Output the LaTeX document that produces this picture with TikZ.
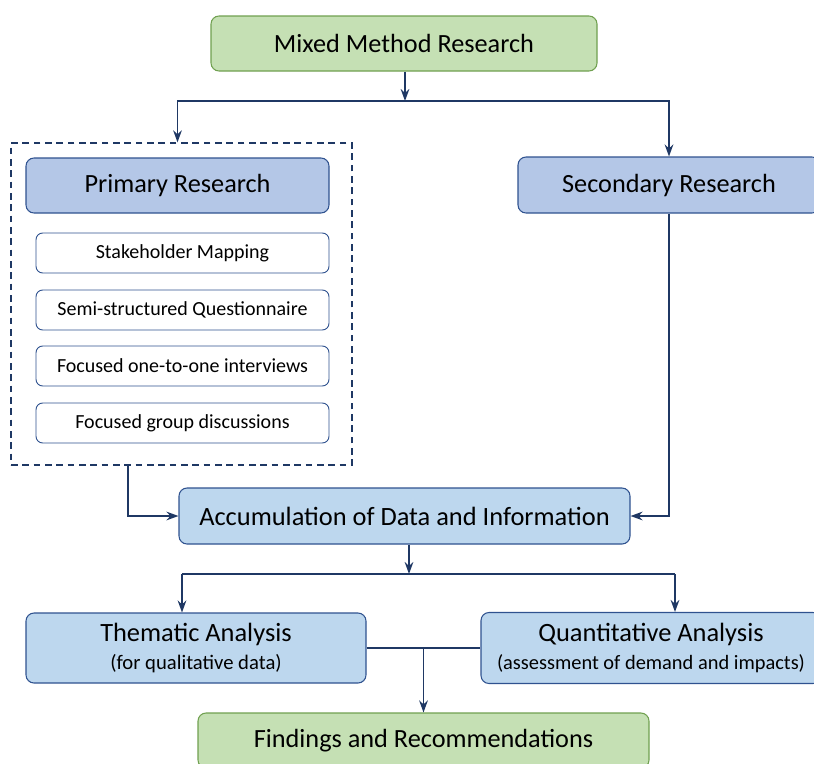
\documentclass[tikz,border=0pt]{standalone}
\usepackage{tikz}
\usepackage{fontspec}
\setmainfont{Carlito}
\usetikzlibrary{arrows.meta}
\definecolor{greenfill}{RGB}{197,224,180}
\definecolor{greenline}{RGB}{112,160,80}
\definecolor{bluefill}{RGB}{180,199,231}
\definecolor{lightblue}{RGB}{189,215,238}
\definecolor{blueline}{RGB}{47,82,143}
\definecolor{navy}{RGB}{31,56,100}

\begin{document}
\begin{tikzpicture}[x=0.75pt,y=0.75pt,yscale=-1,xscale=1,
  greenbox/.style={draw=greenline,fill=greenfill,rounded corners=6pt,line width=0.8pt,font=\fontsize{19.7}{22}\selectfont},
  bluebox/.style={draw=blueline,fill=bluefill,rounded corners=6pt,line width=0.8pt,font=\fontsize{19.7}{22}\selectfont},
  lightbox/.style={draw=blueline,fill=lightblue,rounded corners=6pt,line width=0.8pt,align=center},
  itembox/.style={draw=blueline,fill=white,rounded corners=5pt,line width=0.7pt,minimum width=219.75pt,minimum height=30pt,font=\fontsize{15}{17}\selectfont},
  arr/.style={draw=navy,line width=1.2pt,-{Stealth[length=9pt,width=6.5pt]}},
  ln/.style={draw=navy,line width=1.2pt}]
%set diagram left start at 0, and has height of 764
\useasboundingbox (0,0) rectangle (814,764);

%Shape: Rounded Rect [id:mixed]
\node [greenbox,minimum width=289.5pt,minimum height=41.25pt] (mixed) at (404,43.5) {Mixed Method Research};
%Shape: Dashed Rect [id:primbox]
\node [draw=navy,dashed,line width=1pt,dash pattern={on 5pt off 3.5pt},minimum width=255.75pt,minimum height=241.5pt] (primbox) at (181.5,304) {};
%Shape: Rounded Rect [id:primary]
\node [bluebox,minimum width=227.25pt,minimum height=41.25pt] (primary) at (177.5,185.5) {Primary Research};
%Shape: Rounded Rect [id:secondary]
\node [bluebox,minimum width=226.5pt,minimum height=42pt] (secondary) at (669,185) {Secondary Research};

%Shape: Rounded Rect [id:stake]
\node [itembox] (stake) at (182.5,253) {Stakeholder Mapping};
%Shape: Rounded Rect [id:quest]
\node [itembox] (quest) at (182.5,310) {Semi-structured Questionnaire};
%Shape: Rounded Rect [id:inter]
\node [itembox] (inter) at (182.5,366) {Focused one-to-one interviews};
%Shape: Rounded Rect [id:group]
\node [itembox] (group) at (182.5,423) {Focused group discussions};

%Shape: Rounded Rect [id:accum]
\node [lightbox,minimum width=338.25pt,minimum height=42pt,font=\fontsize{19.8}{22}\selectfont] (accum) at (404.5,516) {Accumulation of Data and Information};
%Shape: Rounded Rect [id:thematic]
\node [lightbox,minimum width=255pt,minimum height=52.5pt] (thematic) at (196,648) {{\fontsize{19.8}{21}\selectfont Thematic Analysis}\\[5pt]{\fontsize{15.5}{16}\selectfont (for qualitative data)}};
%Shape: Rounded Rect [id:quant]
\node [lightbox,minimum width=255pt,minimum height=53.25pt] (quant) at (651,648) {{\fontsize{19.8}{21}\selectfont Quantitative Analysis}\\[5pt]{\fontsize{15.3}{16}\selectfont (assessment of demand and impacts)}};
%Shape: Rounded Rect [id:findings]
\node [greenbox,minimum width=338.25pt,minimum height=41.25pt] (findings) at (423.5,740.5) {Findings and Recommendations};

%Junctions
\coordinate (split1) at (405,101);
\coordinate (pbot) at (128,465);
\coordinate (split2) at (409,574);
\coordinate (barL) at (182,574);
\coordinate (barR) at (675,574);

%Straight Lines [id:top]
\draw [arr] (mixed.south -| split1) -- (split1);
\draw [arr] (split1) -| (primary |- primbox.north);
\draw [arr] (split1) -| (secondary.north);
%Straight Lines [id:middle]
\draw [arr] (pbot) |- (accum.west);
\draw [arr] (secondary.south) |- (accum.east);
\draw [arr] (accum.south -| split2) -- (split2);
\draw [ln] (barL) -- (barR);
\draw [arr] (barL) -- (barL |- thematic.north);
\draw [arr] (barR) -- (barR |- quant.north);
%Straight Lines [id:bottom]
\draw [ln] (thematic.east) -- (quant.west);
\draw [arr] (thematic.east -| findings.north) -- (findings.north);

\end{tikzpicture}
\end{document}
